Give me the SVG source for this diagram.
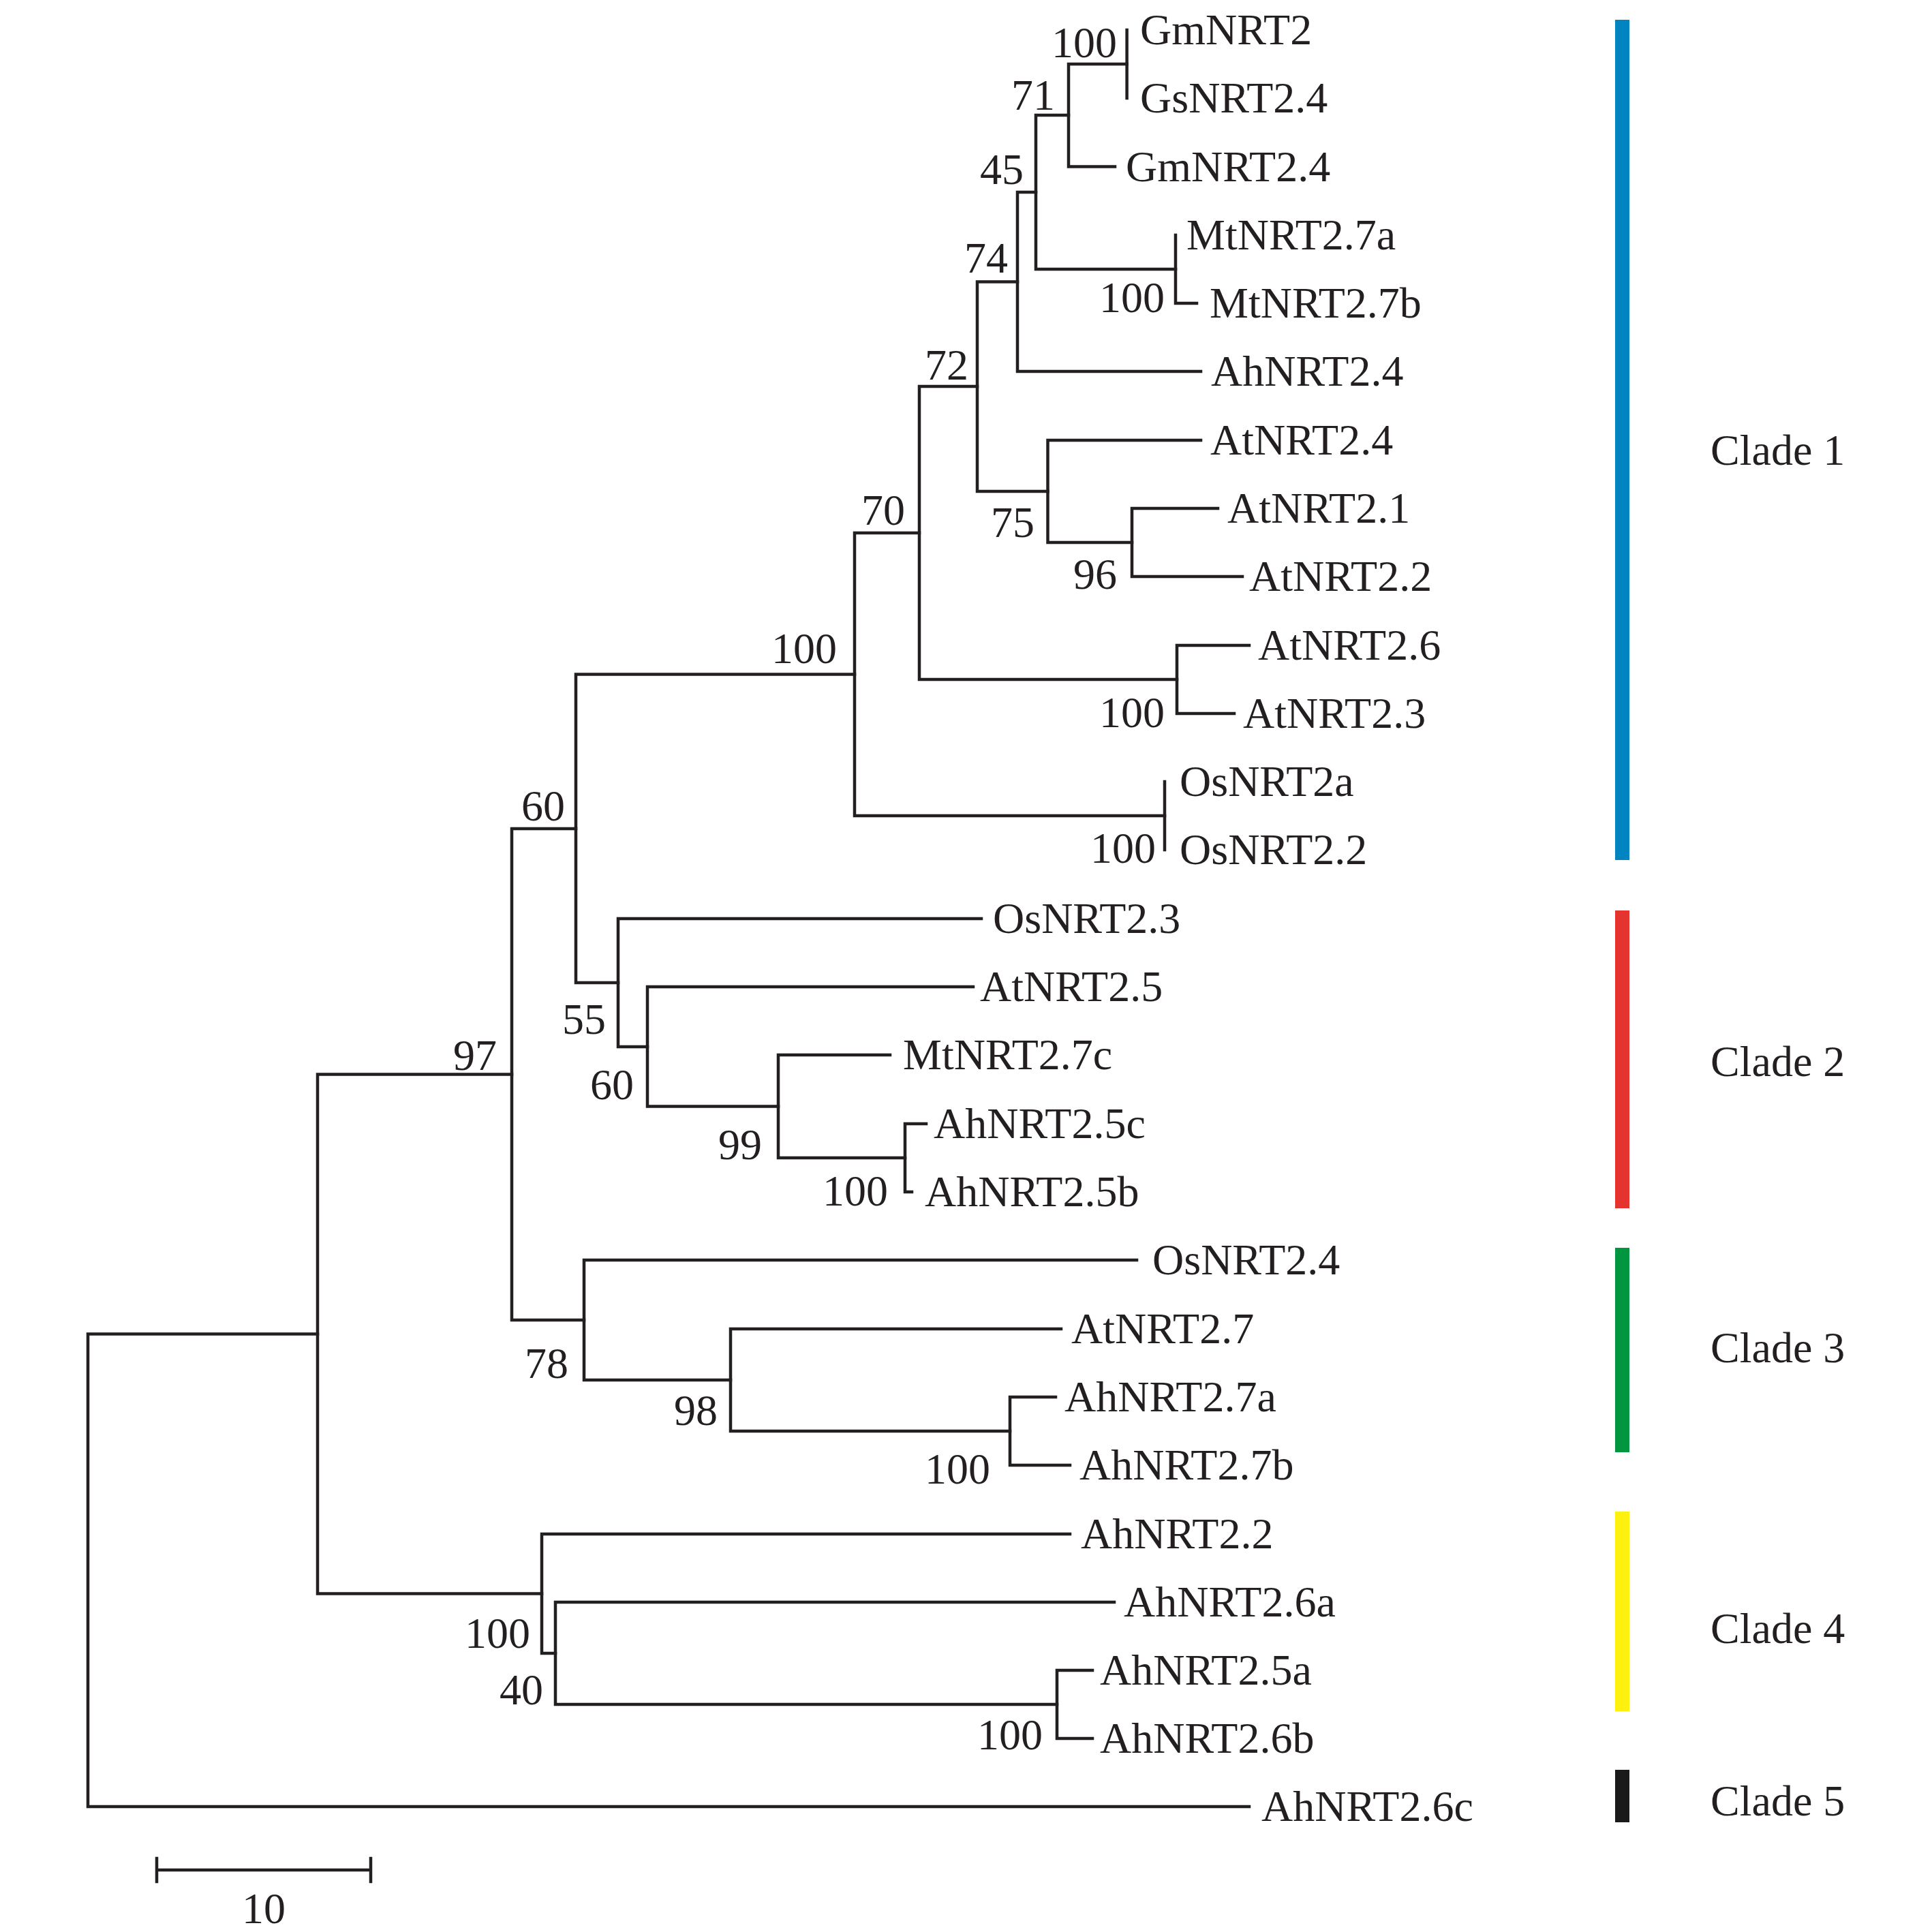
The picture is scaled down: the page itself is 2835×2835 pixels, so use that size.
<svg xmlns="http://www.w3.org/2000/svg" width="2835" height="2835" viewBox="0 0 2835 2835">
<style>
.br{fill:none;stroke:#231f20;stroke-width:4.5;stroke-linecap:square}
.lf{font-family:"Liberation Serif","Times New Roman",serif;font-size:64px;fill:#231f20}
.bs{font-family:"Liberation Serif","Times New Roman",serif;font-size:64px;fill:#231f20;text-anchor:end}
.cl{font-family:"Liberation Serif","Times New Roman",serif;font-size:64px;fill:#231f20}
</style>
<rect width="2835" height="2835" fill="#ffffff"/>
<g id="connectors">
<path class="br" d="M1653.6 44 V144"/>
<path class="br" d="M1653.6 94 H1568 V244.5 H1636"/>
<path class="br" d="M1725 345 V445 H1756"/>
<path class="br" d="M1568 169 H1520 V395 H1725"/>
<path class="br" d="M1520 282 H1493 V545 H1762"/>
<path class="br" d="M1787 746 H1661 V846 H1823"/>
<path class="br" d="M1762 646 H1537.5 V796 H1661"/>
<path class="br" d="M1493 413.5 H1434 V721 H1537.5"/>
<path class="br" d="M1833 947 H1727 V1047 H1811"/>
<path class="br" d="M1434 567 H1349 V997 H1727"/>
<path class="br" d="M1709 1147 V1247"/>
<path class="br" d="M1349 782 H1254 V1197 H1709"/>
<path class="br" d="M1359 1649 H1328 V1749 H1338"/>
<path class="br" d="M1306 1548 H1142 V1699 H1328"/>
<path class="br" d="M1428 1448 H950 V1623.5 H1142"/>
<path class="br" d="M1440 1348 H907 V1536 H950"/>
<path class="br" d="M1254 989.5 H845 V1442 H907"/>
<path class="br" d="M1549 2050 H1482 V2150 H1570"/>
<path class="br" d="M1557 1950 H1072 V2100 H1482"/>
<path class="br" d="M1668 1849 H857 V2025 H1072"/>
<path class="br" d="M845 1216 H751 V1937 H857"/>
<path class="br" d="M1603 2451 H1551 V2551 H1603"/>
<path class="br" d="M1635 2351 H815 V2501 H1551"/>
<path class="br" d="M1570 2251 H795 V2426 H815"/>
<path class="br" d="M751 1576.5 H466 V2338.5 H795"/>
<path class="br" d="M466 1957.5 H129 V2651 H1833"/>
</g>
<g id="leaves">
<g id="leaf-GmNRT2"><text class="lf" x="1673" y="65">GmNRT2</text></g>
<g id="leaf-GsNRT2.4"><text class="lf" x="1673" y="165">GsNRT2.4</text></g>
<g id="leaf-GmNRT2.4"><text class="lf" x="1652" y="265.5">GmNRT2.4</text></g>
<g id="leaf-MtNRT2.7a"><text class="lf" x="1741" y="366">MtNRT2.7a</text></g>
<g id="leaf-MtNRT2.7b"><text class="lf" x="1775" y="466">MtNRT2.7b</text></g>
<g id="leaf-AhNRT2.4"><text class="lf" x="1777" y="566">AhNRT2.4</text></g>
<g id="leaf-AtNRT2.4"><text class="lf" x="1776" y="667">AtNRT2.4</text></g>
<g id="leaf-AtNRT2.1"><text class="lf" x="1801" y="767">AtNRT2.1</text></g>
<g id="leaf-AtNRT2.2"><text class="lf" x="1833" y="867">AtNRT2.2</text></g>
<g id="leaf-AtNRT2.6"><text class="lf" x="1846" y="968">AtNRT2.6</text></g>
<g id="leaf-AtNRT2.3"><text class="lf" x="1824" y="1068">AtNRT2.3</text></g>
<g id="leaf-OsNRT2a"><text class="lf" x="1731" y="1168">OsNRT2a</text></g>
<g id="leaf-OsNRT2.2"><text class="lf" x="1731" y="1268">OsNRT2.2</text></g>
<g id="leaf-OsNRT2.3"><text class="lf" x="1457" y="1369">OsNRT2.3</text></g>
<g id="leaf-AtNRT2.5"><text class="lf" x="1438" y="1469">AtNRT2.5</text></g>
<g id="leaf-MtNRT2.7c"><text class="lf" x="1325" y="1569">MtNRT2.7c</text></g>
<g id="leaf-AhNRT2.5c"><text class="lf" x="1370" y="1670">AhNRT2.5c</text></g>
<g id="leaf-AhNRT2.5b"><text class="lf" x="1357" y="1770">AhNRT2.5b</text></g>
<g id="leaf-OsNRT2.4"><text class="lf" x="1691" y="1870">OsNRT2.4</text></g>
<g id="leaf-AtNRT2.7"><text class="lf" x="1572" y="1971">AtNRT2.7</text></g>
<g id="leaf-AhNRT2.7a"><text class="lf" x="1562" y="2071">AhNRT2.7a</text></g>
<g id="leaf-AhNRT2.7b"><text class="lf" x="1584" y="2171">AhNRT2.7b</text></g>
<g id="leaf-AhNRT2.2"><text class="lf" x="1586" y="2272">AhNRT2.2</text></g>
<g id="leaf-AhNRT2.6a"><text class="lf" x="1649" y="2372">AhNRT2.6a</text></g>
<g id="leaf-AhNRT2.5a"><text class="lf" x="1614" y="2472">AhNRT2.5a</text></g>
<g id="leaf-AhNRT2.6b"><text class="lf" x="1614" y="2572">AhNRT2.6b</text></g>
<g id="leaf-AhNRT2.6c"><text class="lf" x="1851" y="2672">AhNRT2.6c</text></g>
</g>
<g id="bootstrap">
<g id="node-A"><text class="bs" x="1639" y="84">100</text></g>
<g id="node-B"><text class="bs" x="1548" y="161">71</text></g>
<g id="node-D"><text class="bs" x="1502" y="270">45</text></g>
<g id="node-E"><text class="bs" x="1479" y="400">74</text></g>
<g id="node-C"><text class="bs" x="1709" y="458">100</text></g>
<g id="node-H"><text class="bs" x="1421" y="557">72</text></g>
<g id="node-G"><text class="bs" x="1518" y="788">75</text></g>
<g id="node-F"><text class="bs" x="1639" y="864">96</text></g>
<g id="node-J"><text class="bs" x="1328" y="770">70</text></g>
<g id="node-L"><text class="bs" x="1228" y="973">100</text></g>
<g id="node-I"><text class="bs" x="1709" y="1067">100</text></g>
<g id="node-K"><text class="bs" x="1696" y="1266">100</text></g>
<g id="node-Q"><text class="bs" x="829" y="1204">60</text></g>
<g id="node-P"><text class="bs" x="889" y="1517">55</text></g>
<g id="node-O"><text class="bs" x="930" y="1613">60</text></g>
<g id="node-N"><text class="bs" x="1118" y="1701">99</text></g>
<g id="node-M"><text class="bs" x="1303" y="1769">100</text></g>
<g id="node-R"><text class="bs" x="729" y="1570">97</text></g>
<g id="node-V"><text class="bs" x="834" y="2022">78</text></g>
<g id="node-U"><text class="bs" x="1053" y="2091">98</text></g>
<g id="node-T"><text class="bs" x="1453" y="2177">100</text></g>
<g id="node-W"><text class="bs" x="778" y="2418">100</text></g>
<g id="node-X"><text class="bs" x="797" y="2501">40</text></g>
<g id="node-Y"><text class="bs" x="1530" y="2567">100</text></g>
</g>
<g id="clades">
<g id="clade-1"><rect x="2370" y="29" width="21" height="1233" fill="#0085c1"/><text class="cl" x="2510" y="682">Clade 1</text></g>
<g id="clade-2"><rect x="2370" y="1336" width="21" height="437" fill="#e5332f"/><text class="cl" x="2510" y="1579">Clade 2</text></g>
<g id="clade-3"><rect x="2370" y="1831" width="21" height="300" fill="#009640"/><text class="cl" x="2510" y="1999">Clade 3</text></g>
<g id="clade-4"><rect x="2370" y="2218" width="21" height="293" fill="#fff10f"/><text class="cl" x="2510" y="2411">Clade 4</text></g>
<g id="clade-5"><rect x="2370" y="2597" width="21" height="77" fill="#1a1a1a"/><text class="cl" x="2510" y="2664">Clade 5</text></g>
</g>
<g id="scale-bar">
<path class="br" d="M230 2744 H544 M230 2727 V2761 M544 2727 V2761"/>
<text class="bs" style="text-anchor:middle" x="387" y="2822">10</text>
</g>
</svg>
